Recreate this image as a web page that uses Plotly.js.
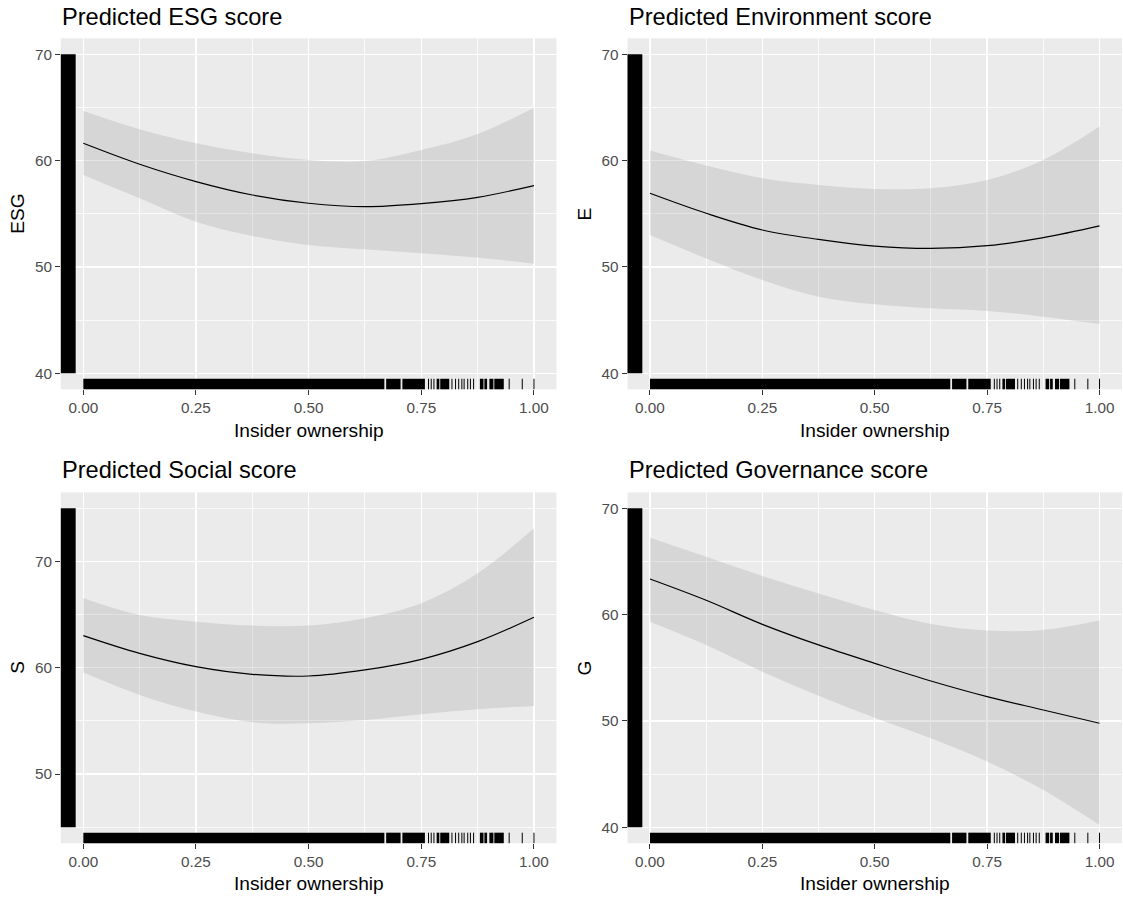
<!DOCTYPE html>
<html>
<head>
<meta charset="utf-8">
<script src="https://cdn.plot.ly/plotly-3.0.1.min.js"></script>
<style>html,body{margin:0;padding:0;background:#fff;}#chart{width:1123px;height:897px;}</style>
</head>
<body>
<div id="chart"></div>
<script>
// x positions (insider ownership) at which values were read
const xs = [0, 0.125, 0.25, 0.375, 0.5, 0.625, 0.75, 0.875, 1];

// Predicted ESG score
const esgFit   = [61.63, 59.66, 58.03, 56.77, 55.99, 55.67, 55.96, 56.55, 57.65];
const esgUpper = [64.67, 62.95, 61.63, 60.69, 60.06, 59.97, 61.00, 62.50, 64.98];
const esgLower = [58.65, 56.46, 54.26, 52.92, 52.07, 51.66, 51.29, 50.88, 50.31];

// Predicted Environment score
const envFit   = [56.93, 55.05, 53.48, 52.60, 51.97, 51.75, 52.00, 52.76, 53.86];
const envUpper = [60.94, 59.53, 58.34, 57.71, 57.34, 57.40, 58.18, 60.06, 63.20];
const envLower = [53.00, 50.80, 48.78, 47.20, 46.49, 46.11, 45.86, 45.33, 44.64];

// Predicted Social score
const socFit   = [63.03, 61.36, 60.11, 59.39, 59.23, 59.80, 60.80, 62.46, 64.75];
const socUpper = [66.54, 64.97, 64.34, 63.97, 63.97, 64.66, 66.07, 68.89, 73.12];
const socLower = [59.55, 57.45, 55.88, 54.87, 54.78, 55.09, 55.63, 56.10, 56.41];

// Predicted Governance score
const govFit   = [63.35, 61.35, 59.09, 57.15, 55.42, 53.76, 52.29, 51.03, 49.78];
const govUpper = [67.24, 65.45, 63.64, 62.00, 60.44, 59.12, 58.50, 58.56, 59.44];
const govLower = [59.34, 57.15, 54.64, 52.38, 50.31, 48.37, 46.18, 43.51, 40.22];

// Rug of insider ownership: dense intervals and isolated observations
const rugXBands = [[0, 0.668], [0.672, 0.704], [0.708, 0.758], [0.784, 0.790], [0.792, 0.812],
                   [0.880, 0.888], [0.890, 0.896], [0.901, 0.910], [0.912, 0.933]];
const rugXTicks = [0.766, 0.772, 0.778, 0.818, 0.826, 0.833, 0.840, 0.845, 0.853, 0.859, 0.866, 0.945, 0.974, 1.0];

// Rug of observed scores (dense range) per panel
const esgRugY = [40, 70];
const envRugY = [40, 70];
const socRugY = [45, 75];
const govRugY = [40, 70];

// Labels
const panelTitles = ["Predicted ESG score", "Predicted Environment score", "Predicted Social score", "Predicted Governance score"];
const yTitles = ["ESG", "E", "S", "G"];
const xTitle = "Insider ownership";
const xTickVals = [0, 0.25, 0.5, 0.75, 1];
const xTickText = ["0.00", "0.25", "0.50", "0.75", "1.00"];
const yTickValsA = [40, 50, 60, 70];
const yTickValsS = [50, 60, 70];

const W = 1123, H = 897;
const FONT = "Liberation Sans, Arial, sans-serif";

const panels = [
  {fit: esgFit, up: esgUpper, lo: esgLower, rugY: esgRugY, yr: [38.5, 71.5], yt: yTickValsA,
   px: [60.8, 556.5], py: [38.3, 389.3]},
  {fit: envFit, up: envUpper, lo: envLower, rugY: envRugY, yr: [38.5, 71.5], yt: yTickValsA,
   px: [627.5, 1122], py: [38.3, 389.3]},
  {fit: socFit, up: socUpper, lo: socLower, rugY: socRugY, yr: [43.5, 76.5], yt: yTickValsS,
   px: [60.8, 556.5], py: [492.4, 843.2]},
  {fit: govFit, up: govUpper, lo: govLower, rugY: govRugY, yr: [38.5, 71.5], yt: yTickValsA,
   px: [627.5, 1122], py: [492.4, 843.2]}
];

const traces = [];
const shapes = [];
const annotations = [];
const layout = {
  width: W, height: H,
  margin: {l: 0, r: 0, t: 0, b: 0},
  paper_bgcolor: "#FFFFFF",
  plot_bgcolor: "#EBEBEB",
  showlegend: false,
  hovermode: false,
  font: {family: FONT, color: "#000000"}
};

panels.forEach((p, i) => {
  const n = i === 0 ? "" : String(i + 1);
  const xa = "x" + n, ya = "y" + n;

  traces.push({x: xs, y: p.up, xaxis: xa, yaxis: ya, type: "scatter", mode: "lines",
    line: {width: 0, shape: "spline", color: "rgba(0,0,0,0)"}, hoverinfo: "skip"});
  traces.push({x: xs, y: p.lo, xaxis: xa, yaxis: ya, type: "scatter", mode: "lines",
    fill: "tonexty", fillcolor: "rgba(153,153,153,0.25)",
    line: {width: 0, shape: "spline", color: "rgba(0,0,0,0)"}, hoverinfo: "skip"});
  traces.push({x: xs, y: p.fit, xaxis: xa, yaxis: ya, type: "scatter", mode: "lines",
    line: {width: 1.2, shape: "spline", color: "#000000"}});

  const xd = [p.px[0] / W, p.px[1] / W];
  const yd = [1 - p.py[1] / H, 1 - p.py[0] / H];

  layout["xaxis" + n] = {
    domain: xd, anchor: ya, range: [-0.05, 1.05], fixedrange: true,
    tickvals: xTickVals, ticktext: xTickText,
    ticks: "outside", ticklen: 4.8, tickwidth: 1, tickcolor: "#333333",
    tickfont: {family: FONT, size: 15.3, color: "#4D4D4D"},
    showgrid: true, gridcolor: "#FFFFFF", gridwidth: 1.4,
    minor: {dtick: 0.125, tick0: 0, showgrid: true, gridcolor: "#FFFFFF", gridwidth: 0.8, ticks: ""},
    zeroline: false, showline: false, automargin: false
  };
  layout["yaxis" + n] = {
    domain: yd, anchor: xa, range: p.yr, fixedrange: true,
    tickvals: p.yt,
    ticks: "outside", ticklen: 4.8, tickwidth: 1, tickcolor: "#333333",
    tickfont: {family: FONT, size: 15.3, color: "#4D4D4D"},
    showgrid: true, gridcolor: "#FFFFFF", gridwidth: 1.4,
    minor: {dtick: 5, tick0: 0, showgrid: true, gridcolor: "#FFFFFF", gridwidth: 0.8, ticks: ""},
    zeroline: false, showline: false, automargin: false
  };

  // y rug (dense band)
  shapes.push({type: "rect", layer: "above", xref: xa + " domain", yref: ya,
    x0: 0, x1: 0.03, y0: p.rugY[0], y1: p.rugY[1], fillcolor: "#000000", line: {width: 0}});
  // x rug bands
  rugXBands.forEach(b => shapes.push({type: "rect", layer: "above", xref: xa, yref: ya + " domain",
    x0: b[0], x1: b[1], y0: 0, y1: 0.03, fillcolor: "#000000", line: {width: 0}}));
  // x rug single ticks
  rugXTicks.forEach(v => shapes.push({type: "line", layer: "above", xref: xa, yref: ya + " domain",
    x0: v, x1: v, y0: 0, y1: 0.03, line: {color: "#000000", width: 1}}));

  // panel title
  const titleMid = i < 2 ? 17.5 : 470;
  annotations.push({text: panelTitles[i], xref: "paper", yref: "paper",
    x: (p.px[0] - 1) / W, y: 1 - titleMid / H, xanchor: "left", yanchor: "middle", showarrow: false,
    font: {family: FONT, size: 23.6, color: "#000000"}});
  // x axis title
  annotations.push({text: xTitle, xref: "paper", yref: "paper",
    x: (p.px[0] + p.px[1]) / 2 / W, y: 1 - (p.py[1] + 40.7) / H, xanchor: "center", yanchor: "middle",
    showarrow: false, font: {family: FONT, size: 19.1, color: "#000000"}});
  // y axis title
  annotations.push({text: yTitles[i], xref: "paper", yref: "paper", textangle: -90,
    x: (p.px[0] - 42.8) / W, y: 1 - (p.py[0] + p.py[1]) / 2 / H, xanchor: "center", yanchor: "middle",
    showarrow: false, font: {family: FONT, size: 19.1, color: "#000000"}});
});

layout.shapes = shapes;
layout.annotations = annotations;

Plotly.newPlot("chart", traces, layout, {displayModeBar: false, staticPlot: true});
</script>
</body>
</html>
